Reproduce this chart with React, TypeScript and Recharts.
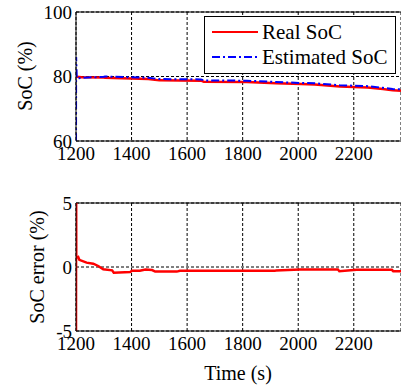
import { LineChart, Line, XAxis, YAxis, CartesianGrid, ReferenceLine, Legend, Label } from "recharts";

const timeTicks = [1200, 1400, 1600, 1800, 2000, 2200];
const socTicks = [60, 80, 100];
const errorTicks = [-5, 0, 5];

// SoC traces (s, %)
const socTime = [1200, 1200.5, 1203, 1220, 1300, 1305, 1460, 1500, 1650, 1660, 1815, 1920, 2010, 2060, 2150, 2250, 2305, 2340, 2370];
const realSoc = [79.9, 79.9, 79.9, 79.8, 79.7, 79.6, 79.2, 78.8, 78.7, 78.4, 78.3, 77.9, 77.7, 77.5, 76.9, 76.6, 76.1, 75.7, 75.6];
const estimatedSoc = [55, 86, 79.4, 79.6, 79.9, 80.0, 79.6, 79.2, 79.1, 78.8, 78.7, 78.3, 78.0, 77.9, 77.3, 77.0, 76.5, 76.1, 76.0];

// estimation error (s, %)
const errTime = [1200, 1200.5, 1201, 1208, 1212, 1238, 1262, 1280, 1298, 1330, 1336, 1395, 1402, 1430, 1450, 1474, 1485, 1563, 1574, 1915, 1920, 2006, 2143, 2148, 2210, 2337, 2342, 2370];
const socError = [-8, 8, 0.7, 0.78, 0.56, 0.34, 0.26, 0.08, -0.18, -0.26, -0.44, -0.39, -0.29, -0.29, -0.2, -0.24, -0.36, -0.36, -0.3, -0.3, -0.27, -0.2, -0.2, -0.33, -0.22, -0.22, -0.33, -0.33];

const socData = socTime.map((t, i) => ({ t, real: realSoc[i], est: estimatedSoc[i] }));
const errData = errTime.map((t, i) => ({ t, err: socError[i] }));

const legendOrder = ["real", "est"];

const FONT = "Liberation Serif, DejaVu Serif, serif";

// tick label drawn as plain svg text so the serif face sticks
const AxisTick = ({ x, y, payload, side }: any) =>
  side === "left" ? (
    <text x={x} y={y} textAnchor="end" dominantBaseline="central" fontSize={19} style={{ fontFamily: FONT }} fill="#000">
      {payload.value}
    </text>
  ) : (
    <text x={x} y={y} textAnchor="middle" dominantBaseline="hanging" fontSize={19} style={{ fontFamily: FONT }} fill="#000">
      {payload.value}
    </text>
  );

const VerticalTitle = ({ text, x, y }: { text: string; x: number; y: number }) => (
  <text
    x={x}
    y={y}
    transform={`rotate(-90 ${x} ${y})`}
    textAnchor="middle"
    dominantBaseline="central"
    fontSize={20}
    style={{ fontFamily: FONT }}
    fill="#000"
  >
    {text}
  </text>
);

const LegendBox = ({ payload }: any) => {
  const items = [...(payload || [])].sort(
    (a: any, b: any) => legendOrder.indexOf(a.dataKey) - legendOrder.indexOf(b.dataKey)
  );
  return (
    <div style={{ border: "1px solid #000", background: "#fff", width: 192, height: 58, boxSizing: "border-box" }}>
      <svg width={190} height={56} style={{ display: "block" }}>
        {items.map((entry: any, i: number) => (
          <g key={entry.value}>
            <line
              x1={7}
              x2={53}
              y1={15 + i * 25}
              y2={15 + i * 25}
              stroke={entry.color}
              strokeWidth={2}
              strokeDasharray={entry.payload?.strokeDasharray}
            />
            <text x={57} y={15 + i * 25} dominantBaseline="central" fontSize={21} style={{ fontFamily: FONT }} fill="#000">
              {entry.value}
            </text>
          </g>
        ))}
      </svg>
    </div>
  );
};

export default function App() {
  return (
    <div
      style={{
        position: "absolute",
        left: 0,
        top: 0,
        width: 401,
        height: 389,
        background: "#fff",
        overflow: "hidden",
        fontFamily: FONT,
      }}
    >
      <LineChart width={401} height={175} data={socData} margin={{ top: 12, right: 0, left: 0, bottom: 0 }}>
        <CartesianGrid stroke="#000" strokeDasharray="3 2" />
        <XAxis
          dataKey="t"
          type="number"
          domain={[1200, 2370]}
          ticks={timeTicks}
          allowDataOverflow
          height={34}
          stroke="#000"
          tickLine={false}
          tickSize={4}
          tickMargin={1}
          tick={<AxisTick side="bottom" />}
        />
        <YAxis
          type="number"
          domain={[60, 100]}
          ticks={socTicks}
          allowDataOverflow
          width={76}
          stroke="#000"
          tickLine={false}
          tickSize={4}
          tickMargin={0}
          tick={<AxisTick side="left" />}
        >
          <Label content={() => <VerticalTitle text="SoC (%)" x={25} y={76} />} />
        </YAxis>
        <ReferenceLine y={100} stroke="#000" />
        <Line dataKey="real" name="Real SoC" stroke="#ff0000" strokeWidth={2.5} dot={false} isAnimationActive={false} />
        <Line
          dataKey="est"
          name="Estimated SoC"
          stroke="#0000ff"
          strokeWidth={2}
          strokeDasharray="8 3 2 3"
          dot={false}
          isAnimationActive={false}
        />
        <Legend
          layout="horizontal"
          verticalAlign="middle"
          content={<LegendBox />}
          wrapperStyle={{ left: 204, top: 16, width: 192, height: 58 }}
        />
      </LineChart>
      <LineChart width={401} height={214} data={errData} margin={{ top: 28, right: 0, left: 0, bottom: 0 }}>
        <CartesianGrid stroke="#000" strokeDasharray="3 2" />
        <XAxis
          dataKey="t"
          type="number"
          domain={[1200, 2370]}
          ticks={timeTicks}
          allowDataOverflow
          height={58}
          stroke="#000"
          tickLine={false}
          tickSize={4}
          tickMargin={1}
          tick={<AxisTick side="bottom" />}
        >
          <Label
            content={() => (
              <text x={238} y={198} textAnchor="middle" dominantBaseline="central" fontSize={20} style={{ fontFamily: FONT }} fill="#000">
                Time (s)
              </text>
            )}
          />
        </XAxis>
        <YAxis
          type="number"
          domain={[-5, 5]}
          ticks={errorTicks}
          allowDataOverflow
          width={76}
          stroke="#000"
          tickLine={false}
          tickSize={4}
          tickMargin={0}
          tick={<AxisTick side="left" />}
        >
          <Label content={() => <VerticalTitle text="SoC error (%)" x={37} y={92} />} />
        </YAxis>
        <ReferenceLine y={5} stroke="#000" />
        <Line dataKey="err" stroke="#ff0000" strokeWidth={2.5} dot={false} isAnimationActive={false} />
      </LineChart>
    </div>
  );
}
